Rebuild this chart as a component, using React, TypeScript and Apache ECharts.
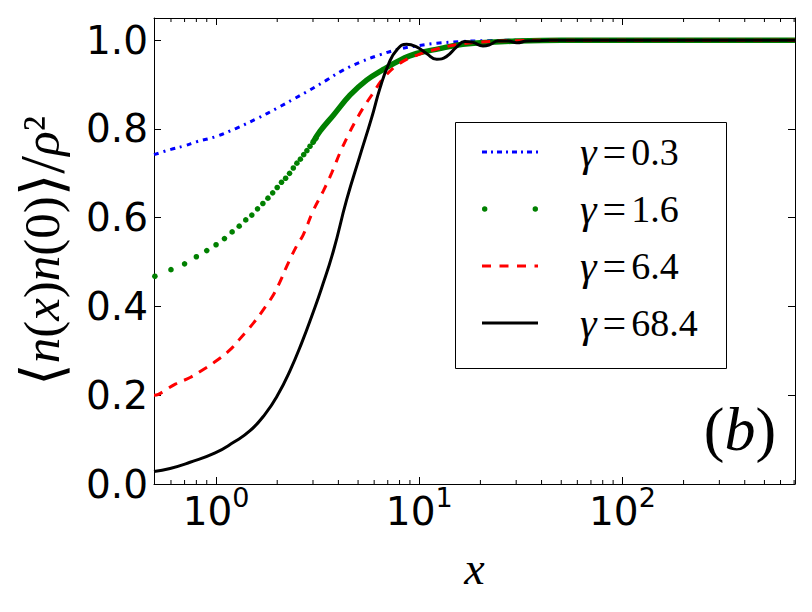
import React, { useEffect, useRef } from "react";
import * as echarts from "echarts";

// ---------- data ----------
const xMin = 0.495;
const xMax = 707;
const yMin = 0;
const yMax = 1.05;
const yInterval = 0.2;

const legendNames = ["γ=0.3", "γ=1.6", "γ=6.4", "γ=68.4"];

// gamma = 0.3 (blue, dash-dot)
const blueCurve: [number, number][] = [
  [0.495, 0.742], [0.6, 0.754], [0.7, 0.762], [0.8, 0.771], [1.0, 0.783],
  [1.25, 0.801], [1.6, 0.824], [2.0, 0.847], [2.4, 0.867], [2.9, 0.888],
  [3.5, 0.91], [4.2, 0.932], [5.1, 0.95], [6.4, 0.967], [8.0, 0.98],
  [10, 0.988], [12.2, 0.993], [16, 0.997], [22, 0.999], [35, 1.0], [707, 1.0],
];

// gamma = 1.6 (green dots, sparse region: individual markers)
const greenDots: [number, number][] = [
  [0.5, 0.468], [0.6, 0.483], [0.7, 0.496], [0.8, 0.512], [0.9, 0.526],
  [1.0, 0.539], [1.1, 0.553], [1.2, 0.568], [1.3, 0.581], [1.4, 0.595],
  [1.5, 0.606], [1.6, 0.62], [1.7, 0.632], [1.8, 0.644], [1.9, 0.656],
  [2.0, 0.668], [2.1, 0.68], [2.2, 0.689], [2.3, 0.7], [2.4, 0.712],
  [2.5, 0.723], [2.6, 0.732], [2.7, 0.742], [2.8, 0.751], [2.9, 0.761],
  [3.0, 0.77], [3.1, 0.779],
];
// gamma = 1.6 (dense region where markers merge into a band)
const greenBand: [number, number][] = [
  [3.0, 0.77], [3.25, 0.795], [3.78, 0.831], [4.56, 0.876], [5.51, 0.91],
  [6.66, 0.934], [8.04, 0.955], [9.7, 0.97], [12.6, 0.981], [15.5, 0.989],
  [20, 0.994], [30, 0.998], [50, 1.0], [707, 1.0],
];

// gamma = 6.4 (red, dashed)
const redCurve: [number, number][] = [
  [0.495, 0.2], [0.52, 0.202], [0.63, 0.225], [0.745, 0.24], [0.866, 0.258],
  [1.0, 0.277], [1.17, 0.302], [1.31, 0.327], [1.53, 0.363], [1.71, 0.393],
  [1.92, 0.427], [2.09, 0.461], [2.23, 0.491], [2.49, 0.536], [2.69, 0.562],
  [3.0, 0.615], [3.37, 0.66], [3.7, 0.7], [4.2, 0.76], [5.0, 0.828],
  [5.83, 0.876], [6.77, 0.918], [8.04, 0.948], [9.7, 0.966], [11.7, 0.978],
  [15.3, 0.99], [20, 0.996], [30, 0.999], [50, 1.0], [707, 1.0],
];

// gamma = 68.4 (black, solid)
const blackCurve: [number, number][] = [
  [0.495, 0.028], [0.594, 0.035], [0.745, 0.049], [0.99, 0.07], [1.22, 0.094],
  [1.47, 0.12], [1.74, 0.157], [2.02, 0.202], [2.31, 0.255], [2.64, 0.318],
  [3.0, 0.386], [3.3, 0.44], [3.78, 0.525], [4.39, 0.64], [5.11, 0.74],
  [5.83, 0.825], [6.41, 0.892], [7.05, 0.945], [7.75, 0.978], [8.67, 0.991],
  [9.7, 0.985], [10.87, 0.97], [12.2, 0.957], [13.6, 0.963], [15.3, 0.985],
  [16.8, 0.997], [18.4, 0.995], [20.6, 0.987], [22.3, 0.99], [24.4, 0.998],
  [27.4, 0.998], [30.2, 0.994], [33.8, 0.998], [38, 0.999], [44, 1.0], [707, 1.0],
];

// minor tick positions of the log axis
const minorTicks = [
  0.6, 0.7, 0.8, 0.9, 2, 3, 4, 5, 6, 7, 8, 9,
  20, 30, 40, 50, 60, 70, 80, 90, 200, 300, 400, 500, 600, 700,
];

// ---------- styles ----------
const BLUE = "#0000ff";
const GREEN = "#008000";
const RED = "#ff0000";
const BLACK = "#000000";
const SANS = "'DejaVu Sans', sans-serif";
const SERIF = "'Liberation Serif', 'DejaVu Serif', serif";

const blueIcon =
  "path://M0,0M56,6M0,1.5h5v3h-5zM9,1.5h2v3h-2zM15,1.5h5v3h-5zM24,1.5h2v3h-2zM30,1.5h5v3h-5zM39,1.5h2v3h-2zM45,1.5h5v3h-5zM54,1.5h2v3h-2z";
const greenIcon =
  "path://M0,0M56,6M0,3a2.7,2.7 0 1,0 5.4,0a2.7,2.7 0 1,0 -5.4,0zM50.6,3a2.7,2.7 0 1,0 5.4,0a2.7,2.7 0 1,0 -5.4,0z";
const redIcon =
  "path://M0,0M56,6M0,1.5h9v3h-9zM17.5,1.5h9v3h-9zM35,1.5h9v3h-9zM52.5,1.5h3.5v3h-3.5z";
const blackIcon = "path://M0,0M56,6M0,1.5h56v3h-56z";
const legendIcons = [blueIcon, greenIcon, redIcon, blackIcon];

export default function App() {
  const ref = useRef<HTMLDivElement>(null);

  useEffect(() => {
    if (!ref.current) return;
    const chart = echarts.init(ref.current, undefined, { renderer: "svg" });

    const logLabel = (v: number) => {
      const e = Math.log10(v);
      const r = Math.round(e);
      if (Math.abs(e - r) > 1e-6) return "";
      return `{b|10}{s|${r}}`;
    };

    const xAxisCommon = {
      type: "log" as const,
      logBase: 10,
      min: xMin,
      max: xMax,
      axisLine: { show: true, onZero: false, lineStyle: { color: BLACK, width: 1 } },
      axisTick: { show: true, inside: true, length: 7, lineStyle: { color: BLACK, width: 1 } },
      splitLine: { show: false },
      minorTick: { show: false },
    };
    const yAxisCommon = {
      type: "value" as const,
      min: yMin,
      max: yMax,
      interval: yInterval,
      axisLine: { show: true, onZero: false, lineStyle: { color: BLACK, width: 1 } },
      axisTick: { show: true, inside: true, length: 7, lineStyle: { color: BLACK, width: 1 } },
      splitLine: { show: false },
    };

    const option: any = {
      animation: false,
      backgroundColor: "#ffffff",
      grid: { left: 154, top: 18, width: 641, height: 466, containLabel: false },
      xAxis: [
        {
          ...xAxisCommon,
          position: "bottom",
          name: "x",
          nameLocation: "middle",
          nameGap: 61,
          nameTextStyle: {
            fontFamily: SERIF,
            fontStyle: "italic",
            fontSize: 46,
            lineHeight: 46,
            color: BLACK,
          },
          axisLabel: {
            show: true,
            margin: 0,
            formatter: logLabel,
            rich: {
              b: { fontFamily: SANS, fontSize: 39, lineHeight: 40, padding: [14, 0, 0, 0], color: BLACK },
              s: { fontFamily: SANS, fontSize: 27, lineHeight: 26, verticalAlign: "top", color: BLACK },
            },
          },
        },
        {
          ...xAxisCommon,
          position: "top",
          axisLabel: { show: false },
        },
      ],
      yAxis: [
        {
          ...yAxisCommon,
          position: "left",
          name: "{k|⟨}{i|n}{a|(}{i|x}{a|)}{i|n}{a|(0)}{k|⟩}{s|/}{i|ρ}{a|²}",
          nameLocation: "middle",
          nameRotate: 90,
          nameGap: 84,
          nameTextStyle: {
            rich: {
              a: { fontFamily: SERIF, fontSize: 51, lineHeight: 56, color: BLACK },
              i: { fontFamily: SERIF, fontStyle: "italic", fontSize: 51, lineHeight: 56, color: BLACK },
              k: { fontFamily: "'DejaVu Sans', sans-serif", fontSize: 58, lineHeight: 56, color: BLACK },
              s: { fontFamily: SERIF, fontSize: 64, lineHeight: 56, color: BLACK },
            },
          },
          axisLabel: {
            show: true,
            margin: 6,
            fontFamily: SANS,
            fontSize: 39,
            color: BLACK,
            formatter: (v: number) => (v > 1.001 ? "" : v.toFixed(1)),
          },
        },
        {
          ...yAxisCommon,
          position: "right",
          axisLabel: { show: false },
        },
      ],
      legend: {
        show: true,
        orient: "vertical",
        left: 482,
        top: 131,
        padding: 0,
        itemWidth: 56,
        itemHeight: 6,
        itemGap: 15,
        selectedMode: false,
        symbolKeepAspect: false,
        itemStyle: { borderWidth: 0, opacity: 1 },
        data: legendNames.map((n, i) => ({ name: n, icon: legendIcons[i] })),
        formatter: (name: string) => {
          const v = name.split("=")[1];
          return `{g|γ}{e|=}{n|${v}}`;
        },
        textStyle: {
          padding: [0, 0, 0, 37],
          rich: {
            g: { fontFamily: SERIF, fontStyle: "italic", fontSize: 42, lineHeight: 44, padding: [0, 6, 0, 0], color: BLACK },
            e: { fontFamily: SERIF, fontSize: 42, lineHeight: 44, padding: [0, 5, 0, 0], color: BLACK },
            n: { fontFamily: SERIF, fontSize: 38, lineHeight: 44, color: BLACK },
          },
        },
      },
      graphic: [
        {
          type: "rect",
          z: 100,
          shape: { x: 455.5, y: 122.5, width: 271, height: 246 },
          style: { fill: "none", stroke: BLACK, lineWidth: 1 },
          silent: true,
        },
        {
          type: "text",
          z: 100,
          x: 740,
          y: 429,
          style: {
            text: "{p|(}{b|b}{p|)}",
            align: "center",
            verticalAlign: "middle",
            fill: BLACK,
            rich: {
              p: { fontFamily: SERIF, fontSize: 62, lineHeight: 62, fill: BLACK },
              b: { fontFamily: SERIF, fontStyle: "italic", fontSize: 62, lineHeight: 62, fill: BLACK },
            },
          },
          silent: true,
        },
      ],
      series: [
        {
          name: legendNames[0],
          type: "line",
          data: blueCurve,
          symbol: "none",
          smooth: 0.4,
          itemStyle: { color: BLUE },
          lineStyle: { color: BLUE, width: 3, type: [5, 5, 2, 5] },
          clip: true,
        },
        {
          name: legendNames[1],
          type: "scatter",
          data: greenDots,
          symbol: "circle",
          symbolSize: 5.6,
          itemStyle: { color: GREEN, opacity: 1 },
          clip: true,
        },
        {
          name: legendNames[1],
          type: "line",
          data: greenBand,
          symbol: "none",
          smooth: 0.4,
          itemStyle: { color: GREEN },
          lineStyle: { color: GREEN, width: 5.5 },
          clip: true,
        },
        {
          name: legendNames[2],
          type: "line",
          data: redCurve,
          symbol: "none",
          smooth: 0.4,
          itemStyle: { color: RED },
          lineStyle: { color: RED, width: 3, type: [9, 8] },
          clip: true,
        },
        {
          name: legendNames[3],
          type: "line",
          data: blackCurve,
          symbol: "none",
          smooth: 0.5,
          itemStyle: { color: BLACK },
          lineStyle: { color: BLACK, width: 3 },
          clip: true,
        },
        {
          type: "custom",
          silent: true,
          z: 10,
          clip: false,
          data: minorTicks.map((v) => [v, yMin]),
          encode: { x: 0, y: 1 },
          renderItem: (params: any, api: any) => {
            const v = api.value(0);
            const b = api.coord([v, yMin]);
            const t = api.coord([v, yMax]);
            return {
              type: "group",
              children: [
                {
                  type: "line",
                  shape: { x1: b[0], y1: b[1], x2: b[0], y2: b[1] - 4 },
                  style: { stroke: BLACK, lineWidth: 1 },
                },
                {
                  type: "line",
                  shape: { x1: t[0], y1: t[1], x2: t[0], y2: t[1] + 4 },
                  style: { stroke: BLACK, lineWidth: 1 },
                },
              ],
            };
          },
        },
      ],
    };

    chart.setOption(option);
    return () => {
      chart.dispose();
    };
  }, []);

  return (
    <div
      ref={ref}
      style={{ position: "fixed", left: 0, top: 0, width: 812, height: 612, background: "#fff" }}
    />
  );
}
